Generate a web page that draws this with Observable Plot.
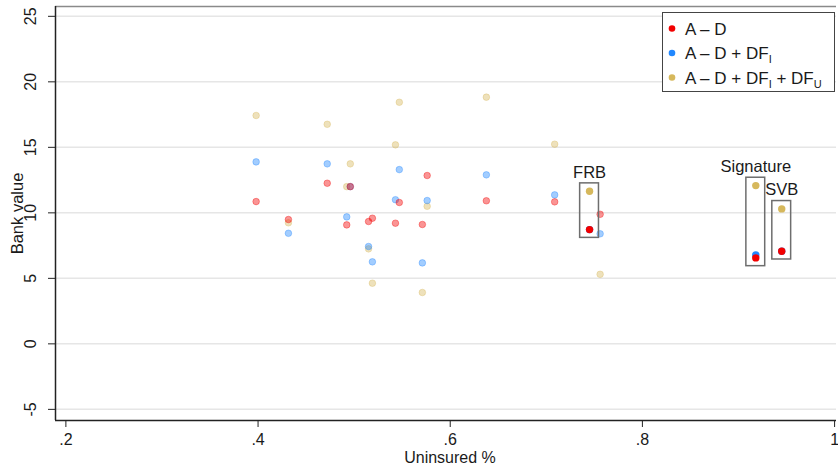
<!DOCTYPE html>
<html>
<head>
<meta charset="utf-8">
<script src="https://cdn.jsdelivr.net/npm/d3@7"></script>
<script src="https://cdn.jsdelivr.net/npm/@observablehq/plot@0.6"></script>
<style>
  html, body { margin: 0; padding: 0; background: #fff; }
  #chart { position: relative; width: 838px; height: 465px; }
</style>
</head>
<body>
<div id="chart"></div>
<script>
// ---- data ----
const banks = ["", "", "", "", "", "", "", "", "", "", "", "", "", "", "FRB", "Signature", "SVB"];
const uninsured = [0.398, 0.4316, 0.472, 0.4923, 0.496, 0.515, 0.519, 0.543, 0.547, 0.571, 0.576, 0.6376, 0.7087, 0.756, 0.745, 0.918, 0.945];
const valueAD = [10.86, 9.49, 12.26, 9.08, 12.0, 9.34, 9.59, 9.21, 10.79, 9.11, 12.85, 10.92, 10.84, 9.89, 8.72, 6.56, 7.07];
const valueADI = [13.89, 8.44, 13.74, 9.69, 12.0, 7.43, 6.26, 11.0, 13.3, 6.18, 10.94, 12.9, 11.37, 8.40, 8.72, 6.79, 7.07];
const valueADIU = [17.43, 9.24, 16.76, 12.0, 13.74, 7.25, 4.63, 15.19, 18.44, 3.92, 10.5, 18.83, 15.24, 5.31, 11.65, 12.08, 10.3];
const seriesNames = ["A – D", "A – D + DF_I", "A – D + DF_I + DF_U"];
const seriesColors = ["#f20000", "#2188ff", "#d6b85c"];
const xTicks = [0.2, 0.4, 0.6, 0.8, 1];
const xTickLabels = [".2", ".4", ".6", ".8", "1"];
const yTicks = [-5, 0, 5, 10, 15, 20, 25];
const xDomain = [0.1892, 1.002];
const yDomain = [-5.85, 25.75];

// ---- build table ----
const seriesValues = [valueAD, valueADI, valueADIU];
const rows = [];
// draw order: tan, blue, red
[2, 1, 0].forEach(s => {
  uninsured.forEach((u, i) => {
    rows.push({bank: banks[i], x: u, y: seriesValues[s][i], series: s, hi: banks[i] !== ""});
  });
});
const boxes = banks.map((b, i) => ({
  bank: b, x: uninsured[i],
  lo: Math.min(valueAD[i], valueADI[i], valueADIU[i]),
  hi: Math.max(valueAD[i], valueADI[i], valueADIU[i])
})).filter(d => d.bank !== "");

const font = "'Liberation Sans', Arial, Helvetica, sans-serif";

const plot = Plot.plot({
  width: 838,
  height: 465,
  marginLeft: 55,
  marginRight: 2,
  marginTop: 6,
  marginBottom: 45,
  style: {fontFamily: font, fontSize: "16px", color: "#1a1a1a", background: "#fff"},
  x: {domain: xDomain},
  y: {domain: yDomain},
  marks: [
    Plot.gridY(yTicks, {stroke: "#e6e6e6", strokeOpacity: 1, strokeWidth: 1.5}),
    Plot.ruleY([yDomain[1]], {stroke: "#8a8a8a", strokeWidth: 1.5}),
    Plot.ruleX([xDomain[0]], {stroke: "#222", strokeWidth: 1.5}),
    Plot.ruleY([yDomain[0]], {stroke: "#222", strokeWidth: 1.5}),
    Plot.axisX(xTicks, {tickSize: 7, tickPadding: 6, tickFormat: (d, i) => xTickLabels[i], fontSize: 16, stroke: "#222", label: null}),
    Plot.axisY(yTicks, {tickSize: 7, text: null, stroke: "#222", label: null}),
    Plot.text(yTicks, {y: d => d, text: d => String(d), frameAnchor: "left", dx: -25, rotate: -90, textAnchor: "middle", lineAnchor: "middle", fontSize: 16, fill: "#1a1a1a"}),
    Plot.text(["Bank value"], {frameAnchor: "left", dx: -38, rotate: -90, textAnchor: "middle", lineAnchor: "middle", fontSize: 16.5, fill: "#1a1a1a"}),
    Plot.text(["Uninsured %"], {frameAnchor: "bottom", dy: 37, dx: 4, textAnchor: "middle", lineAnchor: "middle", fontSize: 16, fill: "#1a1a1a"}),
    Plot.dot(rows.filter(d => !d.hi), {x: "x", y: "y", r: 3.3, fill: d => seriesColors[d.series], fillOpacity: 0.42, stroke: d => seriesColors[d.series], strokeOpacity: 0.35, strokeWidth: 1}),
    Plot.rect(boxes, {x1: d => d.x - 0.0098, x2: d => d.x + 0.0098, y1: d => d.lo - 0.63, y2: d => d.hi + 0.6, fill: "none", stroke: "#6e6e6e", strokeWidth: 1.5}),
    Plot.dot(rows.filter(d => d.hi), {x: "x", y: "y", r: 3.7, fill: d => seriesColors[d.series], stroke: "none"}),
    Plot.text(boxes, {x: "x", y: d => d.hi + 0.6, text: "bank", dy: -11, fontSize: 16.5, fill: "#1a1a1a"})
  ]
});

document.getElementById("chart").appendChild(plot);

// ---- legend inside plot (top right) ----
const svg = d3.select(plot);
const lg = svg.append("g").attr("font-family", font).attr("font-size", 17).attr("fill", "#1a1a1a").attr("text-anchor", "start");
lg.append("rect").attr("x", 662.5).attr("y", 12.5).attr("width", 172).attr("height", 79)
  .attr("fill", "#fff").attr("stroke", "#444").attr("stroke-width", 1);
seriesNames.forEach((name, i) => {
  const cy = 28.5 + i * 24.5;
  lg.append("circle").attr("cx", 672).attr("cy", cy).attr("r", 3.3).attr("fill", seriesColors[i]);
  const t = lg.append("text").attr("x", 685).attr("y", cy).attr("dy", "0.36em").attr("text-anchor", "start");
  const parts = name.split(/(_[IU])/).filter(p => p !== "");
  let lowered = false;
  parts.forEach(p => {
    if (p.startsWith("_")) {
      t.append("tspan").attr("font-size", 11).attr("dy", 4).text(p.slice(1));
      lowered = true;
    } else {
      const ts = t.append("tspan").text(p);
      if (lowered) { ts.attr("dy", -4); lowered = false; }
    }
  });
});
</script>
</body>
</html>
